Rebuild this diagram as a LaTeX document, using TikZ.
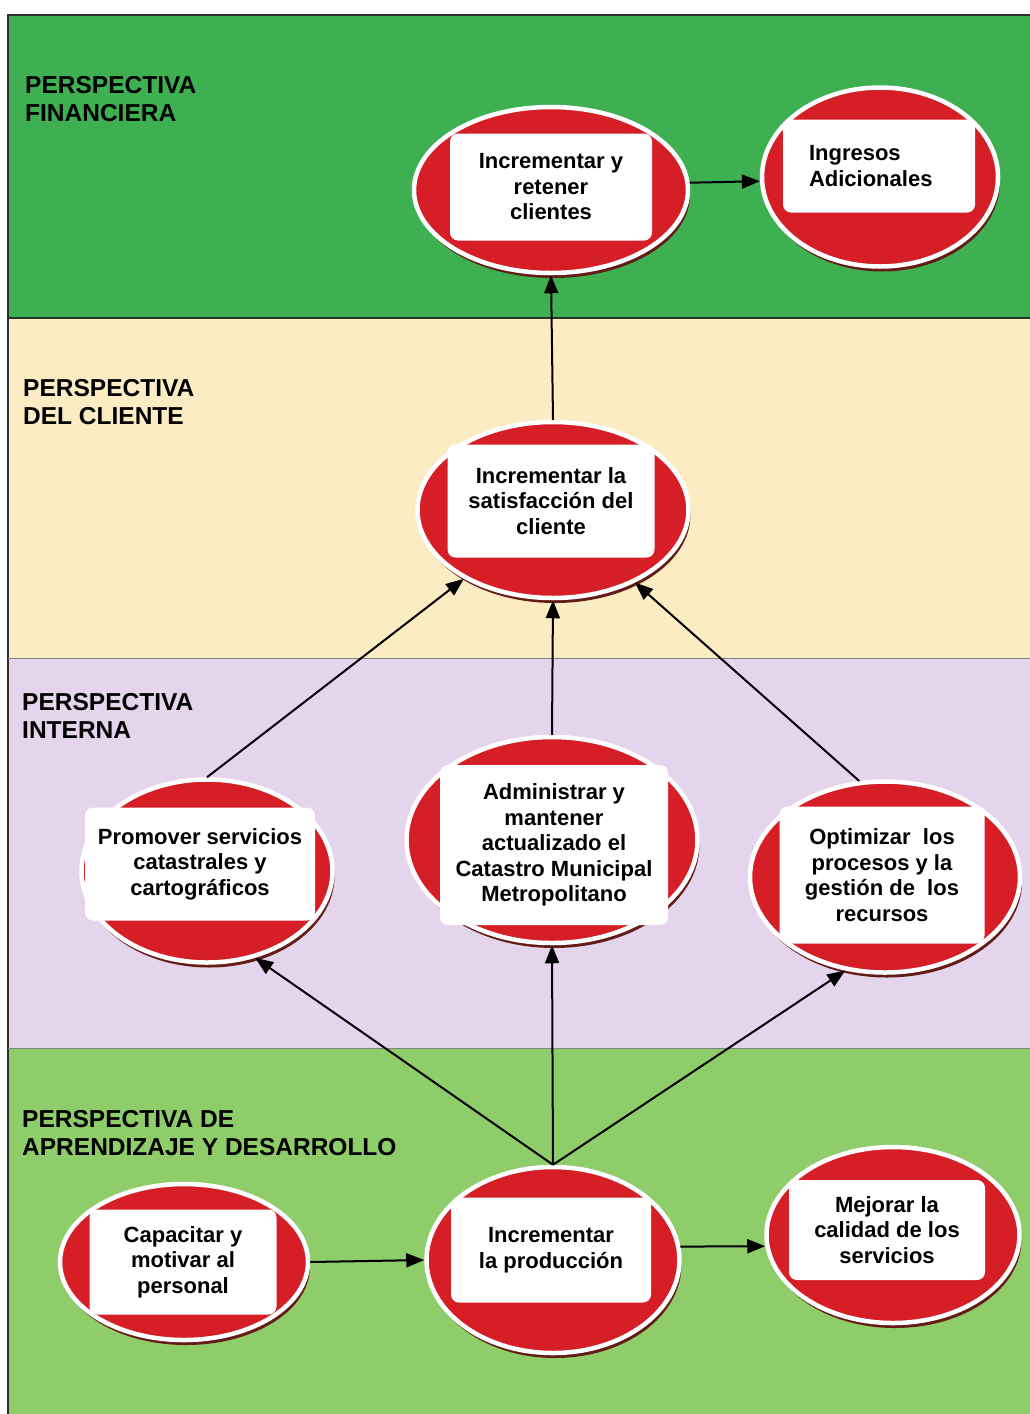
\documentclass[tikz,border=0pt]{standalone}
\usepackage{fontspec}
\setmainfont{Liberation Sans}
\usetikzlibrary{shapes.geometric,shadows,arrows.meta}
\definecolor{gtop}{RGB}{62,176,82}
\definecolor{ycli}{RGB}{252,236,196}
\definecolor{lav}{RGB}{228,212,236}
\definecolor{gbot}{RGB}{143,204,106}
\definecolor{redE}{RGB}{214,30,38}
\definecolor{shad}{RGB}{100,28,22}
\definecolor{bline}{RGB}{40,50,40}
\begin{document}
\begin{tikzpicture}[x=1pt,y=-1pt,
  obj/.style={ellipse, fill=redE, draw=white, line width=4.5pt, inner sep=0pt,
    drop shadow={shadow xshift=2pt, shadow yshift=-5pt, fill=shad, opacity=1}},
  txt/.style={rectangle, rounded corners=8pt, fill=white, align=center, inner sep=0pt,
    font=\bfseries\fontsize{22pt}{25.5pt}\selectfont},
  lbl/.style={anchor=north west, align=left, inner sep=0pt,
    font=\bfseries\fontsize{24.5pt}{28.5pt}\selectfont},
  arr/.style={-{Triangle[length=18pt,width=14pt]}, line width=2pt, black}]
\useasboundingbox (0,0) rectangle (1030,1414);
\fill[white] (0,0) rectangle (1030,1414);
\fill[gtop] (8,15) rectangle (1030,318);
\fill[ycli] (8,318) rectangle (1030,658);
\fill[lav] (8,658) rectangle (1030,1048);
\fill[gbot] (8,1048) rectangle (1030,1414);
\draw[bline, line width=1.2pt] (8,1414) -- (8,15) -- (1030,15);
\draw[bline, line width=1.2pt] (8,318) -- (1030,318);
\draw[bline!60, line width=0.6pt] (8,658) -- (1030,658);
\draw[bline!60, line width=0.6pt] (8,1048) -- (1030,1048);

% labels
\node[lbl] (l1) at (25,76) {PERSPECTIVA\\FINANCIERA};
\node[lbl] (l2) at (23,379) {PERSPECTIVA\\DEL CLIENTE};
\node[lbl] (l3) at (22,693) {PERSPECTIVA\\INTERNA};
\node[lbl] (l4) at (22,1110) {PERSPECTIVA DE\\APRENDIZAJE Y DESARROLLO};

% ellipses
\node[obj, minimum width=274pt, minimum height=166pt] (e1) at (551,190) {};
\node[obj, minimum width=236pt, minimum height=179pt] (e2) at (880,177) {};
\node[obj, minimum width=271pt, minimum height=176pt] (e3) at (553,510) {};
\node[obj, minimum width=251pt, minimum height=183pt] (e4) at (207,871) {};
\node[obj, minimum width=291pt, minimum height=206pt] (e5) at (552,840) {};
\node[obj, minimum width=270pt, minimum height=191pt] (e6) at (885,877) {};
\node[obj, minimum width=248pt, minimum height=156pt] (e7) at (184,1262) {};
\node[obj, minimum width=253pt, minimum height=186pt] (e8) at (553,1260) {};
\node[obj, minimum width=253pt, minimum height=176pt] (e9) at (893,1235) {};

% inner text boxes
\node[txt, minimum width=202pt, minimum height=107pt] (t1) at (551,187) {Incrementar y\\retener\\clientes};
\node[txt, align=left, text width=140pt, inner xsep=26pt, minimum height=93pt] (t2) at (879,166) {Ingresos\\Adicionales};
\node[txt, minimum width=207pt, minimum height=113pt] (t3) at (551,501) {Incrementar la\\satisfacción del\\cliente};
\node[txt, minimum width=230pt, minimum height=113pt] (t4) at (200,864) {Promover servicios\\catastrales y\\cartográficos};
\node[txt, minimum width=228pt, minimum height=160pt] (t5) at (554,845) {Administrar y\\mantener\\actualizado el\\Catastro Municipal\\Metropolitano};
\node[txt, minimum width=205pt, minimum height=137pt] (t6) at (882,875) {Optimizar~ los\\procesos y la\\gestión de~ los\\recursos};
\node[txt, minimum width=187pt, minimum height=105pt] (t7) at (183,1262) {Capacitar y\\motivar al\\personal};
\node[txt, minimum width=200pt, minimum height=105pt] (t8) at (551,1250) {Incrementar\\la producción};
\node[txt, minimum width=196pt, minimum height=100pt] (t9) at (887,1230) {Mejorar la\\calidad de los\\servicios};

% connectors
\draw[arr] (e1.3) -- (e2.182);
\draw[arr] (e3.north) -- (e1.south);
\draw[arr] (e4.north) -- (e3);
\draw[arr] (e5.north) -- (e3.south);
\draw[arr] (e6.105) -- (e3);
\draw[arr] (e8.north) -- (e4.299);
\draw[arr] (e8.north) -- (e5.south);
\draw[arr] (e8.north) -- (e6.247);
\draw[arr] (e7.east) -- (e8.west);
\draw[arr] (e8.6) -- (e9.185);
\end{tikzpicture}
\end{document}
